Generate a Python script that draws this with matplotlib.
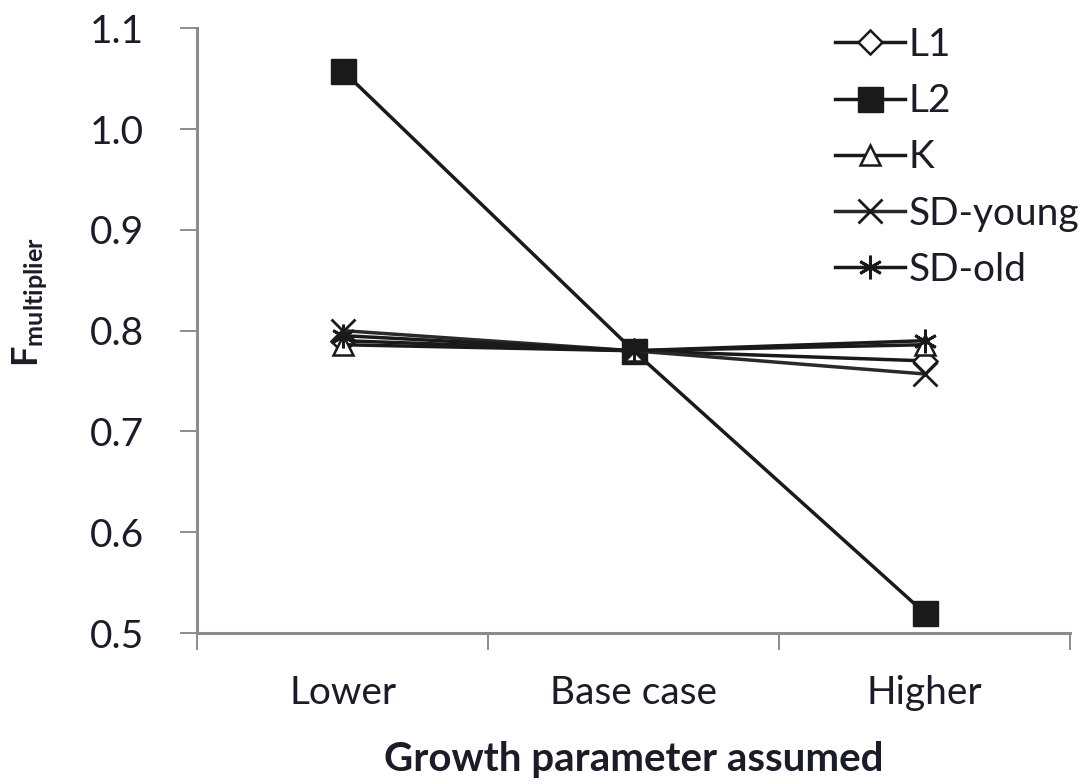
import matplotlib
matplotlib.use("Agg")
import matplotlib.pyplot as plt

categories = ["Lower", "Base case", "Higher"]
L1 = [0.790, 0.780, 0.770]
L2 = [1.058, 0.780, 0.520]
K = [0.786, 0.780, 0.786]
SD_young = [0.800, 0.780, 0.757]
SD_old = [0.795, 0.780, 0.790]
yticks = [0.5, 0.6, 0.7, 0.8, 0.9, 1.0, 1.1]

txt = '#1c1c28'
plt.rcParams['font.family'] = ['Lato', 'DejaVu Sans']
plt.rcParams['mathtext.fontset'] = 'custom'
plt.rcParams['mathtext.rm'] = 'Lato'
plt.rcParams['mathtext.bf'] = 'Lato:bold'
plt.rcParams['text.color'] = txt
plt.rcParams['axes.labelcolor'] = txt
plt.rcParams['xtick.labelcolor'] = txt
plt.rcParams['ytick.labelcolor'] = txt

fig = plt.figure(figsize=(10.83, 7.84), dpi=100)
ax = fig.add_axes([0.182, 0.1926, 0.806, 0.7714])

x = [i + 0.5 for i in range(len(categories))]
lw = 2.5
ax.plot(x, L1, color='#1a1a1a', lw=lw, marker='D', ms=12, mfc='white', mec='#1a1a1a', mew=1.8, label='L1')
ax.plot(x, L2, color='#1a1a1a', lw=lw, marker='s', ms=18, mfc='#1a1a1a', mec='#1a1a1a', label='L2')
ax.plot(x, K, color='#1a1a1a', lw=lw, marker='^', ms=15, mfc='white', mec='#1a1a1a', mew=1.8, label='K')
ax.plot(x, SD_young, color='#2a2a2a', lw=lw, marker='x', ms=17, mec='#1a1a1a', mew=2.0, label='SD-young')
ax.plot(x, SD_old, color='#1a1a1a', lw=lw, marker=(6, 2, 0), ms=17, mec='#1a1a1a', mew=2.0, label='SD-old')

ax.set_xlim(0, 3)
ax.set_ylim(0.5, 1.1)
ax.set_yticks(yticks)
ax.set_yticklabels([f"{v:.1f}" for v in yticks])
ax.set_xticks([0, 1, 2, 3])
ax.set_xticklabels([])
ax.set_xticks(x, minor=True)
ax.set_xticklabels(categories, minor=True)
ax.tick_params(axis='x', which='minor', length=0, pad=30, labelsize=28)
ax.tick_params(axis='x', which='major', length=12, width=1.4, color='#8c8c8c', direction='out')
ax.tick_params(axis='y', length=12, width=1.4, color='#8c8c8c', direction='out', labelsize=28, pad=26)

for s in ['top', 'right']:
    ax.spines[s].set_visible(False)
for s in ['left', 'bottom']:
    ax.spines[s].set_color('#8c8c8c')
    ax.spines[s].set_linewidth(2.2)

ax.set_xlabel('Growth parameter assumed', fontsize=29, fontweight='bold')
ax.xaxis.set_label_coords(0.5, -0.178)
ax.set_ylabel(r'$\mathbf{F_{multiplier}}$', fontsize=26)
ax.yaxis.set_label_coords(-0.168, 0.547)

leg = ax.legend(loc='upper right', bbox_to_anchor=(1.051, 1.06), frameon=False, fontsize=28,
                handlelength=1.8, handletextpad=0.1, labelspacing=0.52)

fig.savefig('out.png', dpi=100)
